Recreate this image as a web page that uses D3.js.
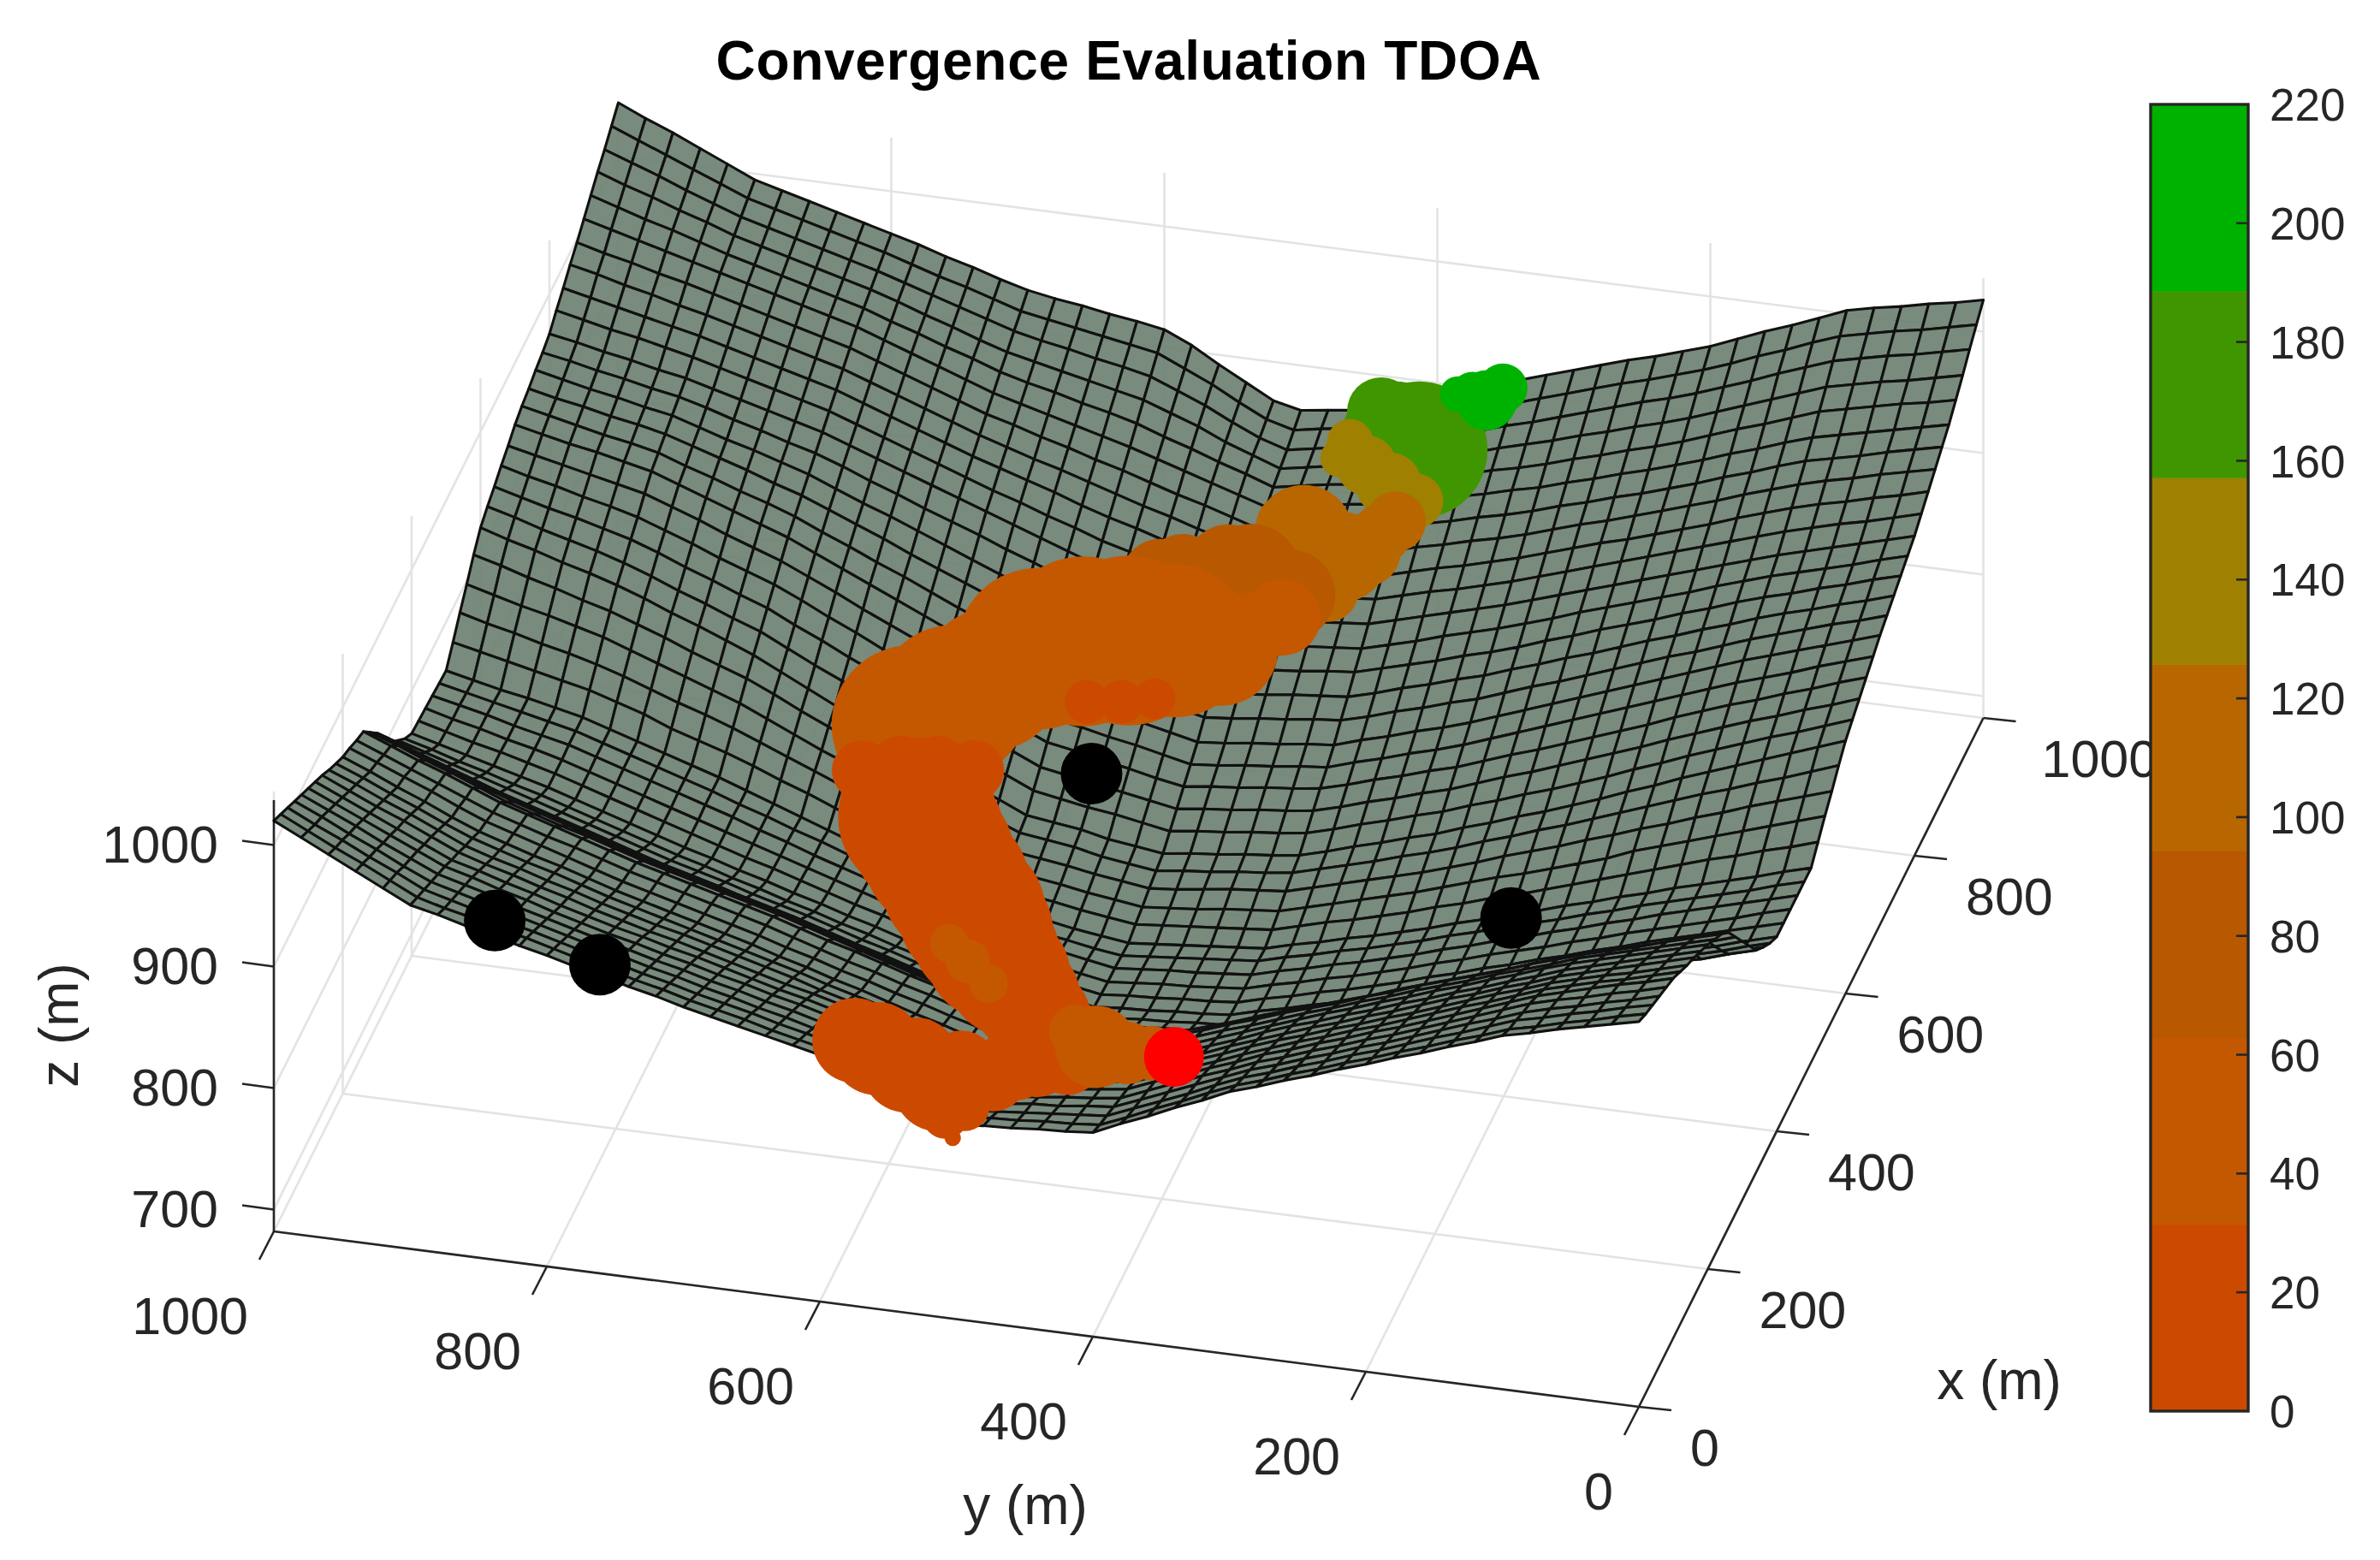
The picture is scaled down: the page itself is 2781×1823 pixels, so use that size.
<!DOCTYPE html>
<html>
<head>
<meta charset="utf-8">
<script src="https://cdn.jsdelivr.net/npm/d3@7"></script>
<style>
  html, body { margin: 0; background: #fff; }
  text { font-family: "Liberation Sans", Arial, sans-serif; fill: #262626; }
</style>
</head>
<body>
<svg id="chart" width="2781" height="1823"></svg>
<script>
// terrain heights in m, one row per x (0, 20 .. 1000), one column per y (0, 20 .. 1000)
const terrainZ = [
[999,994,989,984,978,973,965,958,950,943,935,928,920,913,905,898,888,879,869,860,850,848,847,845,844,842,851,859,868,876,885,890,895,900,905,910,916,921,927,932,938,943,949,954,960,965,976,987,998,1009,1020],
[994,989,983,978,972,967,959,952,944,937,929,922,914,907,899,892,883,873,864,854,845,843,842,840,839,837,845,853,862,870,878,883,888,894,899,904,910,915,921,926,932,938,943,949,954,960,971,982,992,1003,1014],
[990,985,979,974,968,963,955,947,940,932,924,917,909,902,894,887,878,868,859,850,841,839,837,835,833,831,839,847,856,864,872,877,882,888,893,898,904,909,915,920,926,932,937,943,949,955,966,976,987,997,1008],
[986,980,975,969,964,958,950,943,935,927,919,912,904,897,889,882,873,864,855,846,837,835,832,831,828,826,834,842,849,857,865,870,876,881,887,892,898,903,909,914,920,926,932,938,944,950,960,971,981,992,1002],
[982,976,971,965,960,954,946,938,930,922,914,907,899,892,884,877,868,860,851,842,833,830,828,825,823,820,828,836,843,851,859,864,870,875,881,886,892,897,903,908,914,920,926,933,939,945,955,965,976,986,996],
[978,972,967,961,955,949,941,933,925,917,909,902,894,887,879,872,863,855,846,838,829,826,823,821,818,815,822,830,837,845,852,858,864,869,875,880,886,891,897,902,908,914,921,927,934,940,950,960,970,980,990],
[972,966,960,955,949,943,935,927,920,912,904,896,889,881,874,866,858,849,841,832,824,821,818,815,811,808,815,823,830,838,845,851,857,862,868,874,880,885,891,896,902,908,915,921,928,934,944,954,964,974,984],
[966,960,954,949,943,937,929,922,914,906,898,891,883,876,868,861,853,844,836,827,819,815,812,809,806,802,809,816,824,831,838,844,850,855,861,867,873,879,884,890,896,903,909,916,922,929,939,949,958,968,978],
[961,955,949,943,937,931,923,916,908,901,893,885,878,870,863,855,847,839,830,822,814,810,806,803,799,795,802,809,816,823,830,836,842,849,855,861,867,873,878,884,890,897,903,910,916,923,933,943,952,962,971],
[955,949,943,937,931,925,917,910,902,895,887,880,872,865,857,850,842,833,825,817,809,805,801,797,793,789,796,803,809,816,823,829,835,842,848,854,860,866,872,878,884,891,898,904,911,918,927,937,946,956,965],
[949,943,937,931,925,919,912,904,897,889,882,874,867,859,852,844,836,828,820,812,804,799,795,791,787,782,789,795,802,808,815,822,828,835,841,848,854,860,866,872,878,885,892,898,905,912,921,931,940,950,959],
[942,936,930,924,918,912,904,897,890,882,875,868,860,853,845,838,830,822,815,807,799,795,791,787,783,779,785,792,798,805,811,818,824,831,837,844,850,856,862,868,874,881,888,895,902,909,918,928,937,946,955],
[935,929,923,916,910,904,897,890,882,875,868,861,853,846,838,831,824,816,809,801,794,790,787,782,779,775,781,788,794,801,807,814,820,827,834,841,847,853,859,865,871,878,885,891,898,905,914,923,932,941,950],
[925,919,912,906,900,894,887,880,872,865,858,851,844,836,829,822,815,808,800,793,786,784,780,778,774,772,778,784,791,797,803,810,817,823,830,837,843,849,855,861,867,874,881,888,895,902,911,920,928,937,946],
[910,903,897,890,884,878,871,864,857,850,843,836,829,821,814,807,800,794,787,780,773,770,767,765,763,761,767,773,780,786,792,799,806,813,820,827,833,839,845,851,857,864,871,877,884,891,900,909,917,926,934],
[895,888,882,875,869,863,856,849,842,835,828,821,814,807,800,793,786,780,773,767,760,758,756,754,752,750,756,762,768,774,780,787,794,801,808,815,821,827,833,839,845,852,859,866,873,880,888,897,905,914,922],
[880,873,867,860,854,848,841,834,828,821,814,807,801,794,787,780,774,767,761,754,748,746,745,743,741,739,745,751,756,762,768,775,782,789,796,803,809,815,821,827,833,840,847,854,861,868,876,884,892,900,908],
[865,859,852,847,840,834,827,820,814,807,800,793,787,780,773,766,760,754,747,741,735,734,732,731,729,728,733,739,744,750,755,762,769,775,782,789,795,801,808,814,820,827,834,841,848,855,862,870,877,885,892],
[856,850,844,837,831,825,818,811,805,798,792,785,779,772,766,759,753,747,741,735,729,727,726,724,723,721,726,731,737,742,747,754,761,767,774,781,787,793,800,806,812,819,826,833,840,847,854,861,868,875,882],
[848,842,836,830,824,818,811,805,798,792,785,778,772,765,759,752,746,740,735,729,723,722,720,719,717,716,721,726,730,735,740,747,753,760,766,773,779,786,792,799,805,812,819,826,833,840,846,853,859,866,872],
[842,836,830,824,818,812,806,799,793,786,780,774,767,761,754,748,742,737,731,726,720,718,717,715,714,712,717,721,726,730,735,742,748,755,761,768,774,781,787,794,800,807,814,821,828,835,841,847,853,859,865],
[842,836,830,824,818,812,805,799,792,786,779,773,766,760,753,747,741,736,730,725,719,717,716,714,713,711,715,720,724,729,733,740,746,753,759,766,773,780,786,793,800,807,814,821,828,835,841,847,852,858,864],
[842,836,829,823,817,811,805,798,792,785,779,773,766,760,753,747,741,736,730,725,719,717,715,714,712,710,714,718,722,726,730,737,744,751,758,765,772,779,786,793,800,807,814,821,828,835,841,846,852,857,863],
[842,836,830,824,818,812,805,799,792,786,779,773,766,760,753,747,741,736,730,725,719,717,715,714,712,710,714,718,721,725,729,736,743,750,757,764,771,779,786,794,801,808,815,822,829,836,841,846,852,857,862],
[842,836,829,823,817,811,805,798,792,785,779,773,766,760,753,747,741,736,730,725,719,717,715,713,711,709,712,716,719,723,726,733,741,748,756,763,771,778,786,793,801,808,815,822,829,836,841,846,851,856,861],
[842,836,829,823,817,811,804,798,791,785,778,772,765,759,752,746,740,735,729,724,718,716,714,712,710,708,711,714,718,721,724,731,739,746,754,761,769,777,785,793,801,808,815,822,829,836,841,846,850,855,860],
[852,845,839,832,826,819,812,805,798,791,784,777,771,764,758,751,745,739,734,728,722,720,718,716,714,712,715,718,722,725,728,736,744,751,759,767,776,785,793,802,810,817,824,833,840,847,852,857,862,867,872],
[862,855,848,841,834,827,820,813,804,797,790,783,777,770,763,756,750,744,738,732,726,724,722,719,717,715,718,721,725,728,732,740,748,757,765,773,783,792,801,810,819,827,834,842,850,857,863,868,874,879,885],
[871,864,857,850,842,835,827,820,812,805,797,790,783,775,768,761,755,749,743,737,731,729,727,724,721,719,722,725,729,732,735,744,753,761,770,779,789,798,808,818,828,836,844,852,860,868,874,880,885,891,897],
[881,873,865,858,850,843,835,827,819,811,803,796,788,781,773,766,760,753,747,741,735,732,730,727,725,722,725,728,733,736,739,748,757,767,776,785,795,806,816,827,837,845,853,862,870,878,884,891,897,904,910],
[890,882,874,866,858,850,842,833,825,816,808,800,793,785,778,770,764,757,751,744,738,735,733,730,728,725,728,731,736,739,742,752,761,771,780,790,801,812,823,834,845,854,863,871,880,888,895,901,908,914,921],
[896,888,880,873,865,857,849,840,832,823,815,807,800,792,785,777,771,764,758,751,745,742,740,737,735,732,736,740,743,747,751,761,770,780,789,799,810,821,831,842,853,861,870,878,887,895,902,908,914,921,927],
[902,894,887,879,872,864,856,848,839,831,823,815,807,800,792,784,778,771,765,758,752,749,747,744,742,739,743,747,751,755,759,769,779,788,798,808,819,829,840,850,861,869,878,886,895,903,909,915,920,926,932],
[908,901,893,886,878,871,863,855,846,838,830,822,814,807,799,791,785,778,772,765,759,756,754,751,749,746,750,755,759,764,768,778,787,797,807,817,827,838,848,859,869,877,885,894,902,910,916,921,927,932,938],
[914,907,900,892,885,878,870,862,854,846,838,830,822,814,806,798,791,785,778,772,765,763,760,758,755,753,758,763,767,772,776,786,796,806,816,826,836,846,857,867,877,885,893,902,910,918,923,928,933,938,943],
[920,913,906,899,892,885,877,869,861,853,845,837,829,821,813,805,798,792,785,779,772,770,767,765,762,760,765,770,775,780,785,795,805,815,825,835,845,855,865,875,885,893,901,909,917,925,930,935,939,944,949],
[925,918,912,905,898,891,883,875,868,860,852,844,836,829,821,813,807,800,794,787,781,779,776,774,771,769,774,779,785,790,795,805,814,824,833,843,853,862,872,881,891,899,906,914,921,929,934,938,943,948,953],
[930,923,917,910,904,897,889,882,874,867,859,851,844,836,829,821,815,808,802,795,789,787,785,782,780,778,783,789,794,800,805,814,824,833,842,851,860,870,879,888,897,904,912,919,926,933,938,942,947,951,956],
[935,929,922,916,909,903,896,888,881,873,866,859,851,844,836,829,823,816,810,804,798,796,793,791,789,787,793,798,804,809,815,824,833,841,850,859,868,877,885,894,903,910,917,923,930,937,941,946,950,955,960],
[940,934,927,921,915,909,902,895,887,880,873,866,859,851,844,837,831,825,818,812,806,804,802,800,798,796,802,808,813,819,825,833,842,850,859,867,875,884,892,901,909,915,922,928,935,941,945,950,954,959,963],
[945,939,933,927,921,915,908,901,894,887,880,873,866,859,852,845,839,833,827,821,815,813,811,809,807,805,811,817,823,829,835,843,851,859,867,875,883,891,899,907,915,921,927,933,939,945,949,954,958,963,967],
[952,946,940,935,929,923,916,909,902,895,888,881,874,867,860,853,847,841,836,830,824,822,819,817,814,812,818,825,831,837,843,851,858,866,873,881,889,897,905,913,921,927,933,939,945,951,956,961,965,970,975],
[959,953,948,942,937,931,924,917,909,902,895,888,882,875,868,861,855,849,844,838,832,829,827,824,822,819,825,832,838,845,851,858,866,873,880,887,895,903,911,919,927,933,939,945,951,957,962,967,972,977,982],
[966,961,956,950,945,939,932,925,917,910,903,896,889,883,876,869,863,858,852,847,841,838,835,832,829,826,833,839,846,852,859,866,873,879,886,893,901,909,917,925,933,939,945,951,957,963,968,974,979,985,990],
[973,968,963,957,952,947,940,932,925,917,910,903,897,890,884,877,871,866,860,855,849,846,843,839,836,833,840,847,853,860,867,873,880,886,893,899,907,915,923,931,939,945,951,957,963,969,975,980,986,991,997],
[980,975,970,965,960,955,948,940,933,925,918,911,905,898,892,885,880,874,869,863,858,854,851,847,844,840,847,854,861,868,875,881,887,893,899,905,913,921,929,937,945,951,957,963,969,975,981,987,993,999,1005],
[989,984,980,975,970,965,957,949,942,934,926,919,913,906,900,893,887,882,876,870,864,860,856,853,849,845,853,860,868,875,883,889,894,900,905,911,919,926,934,941,949,955,961,967,973,979,986,993,999,1006,1013],
[998,993,988,984,979,974,966,958,950,942,934,927,921,914,908,901,895,889,882,876,870,866,862,857,853,849,857,865,875,883,891,896,901,906,911,916,923,931,938,946,953,959,965,971,977,983,991,998,1006,1013,1021],
[1008,1003,998,994,989,984,976,968,959,951,943,936,930,923,916,909,902,896,889,883,876,871,866,861,857,853,860,870,881,890,899,904,908,913,917,922,929,936,943,950,957,963,969,975,981,987,995,1003,1012,1020,1028],
[1017,1012,1007,1003,998,993,985,976,968,959,951,944,937,931,924,917,910,903,896,889,882,876,870,865,862,858,864,875,887,897,907,911,915,919,923,927,934,941,947,954,961,967,973,979,985,991,1000,1009,1018,1027,1036],
[1026,1021,1017,1012,1008,1003,994,985,977,968,959,952,945,939,932,925,918,911,903,896,888,880,873,869,866,863,868,880,892,905,915,919,922,926,929,933,939,946,952,959,965,971,977,983,989,995,1005,1015,1025,1034,1044]
];

// swarm track: position in m, cloud half-width in m, colour value
const trackX = [947,955,976, 945,930,933,927,918, 996,985,983,980, 878,878,870,892,881,845,903, 836,852,856,843,865,857,826, 827,821,799,793,785,776,766,725,696,657, 725,719,735, 586,599,605,606,549,528,508,477,445,423,401,374,347,322,298, 407,386,359, 117,118,116,104,134,67,41,96,165,184,221,241,260,251, 293,275,272,276];
const trackY = [400,419,435, 450,454,435,417,395, 351,360,370,380, 477,467,437,414,422,441,406, 585,566,550,530,519,500,464, 470,485,508,540,572,603,634,657,678,699, 562,586,540, 717,692,666,640,667,654,641,621,601,588,575,556,537,519,501, 608,589,567, 604,588,565,539,563,525,513,518,538,520,513,502,495,482, 487,467,444,427];
const trackZ = [875,880,885, 875,870,865,855,850, 905,900,905,905, 840,835,825,835,825,810,840, 798,800,803,805,808,810,815, 795,790,780,785,785,785,780,775,770,770, 770,770,770, 770,770,770,770,760,758,755,752,750,748,745,745,745,745,745, 745,745,745, 830,825,815,810,810,808,806,800,790,775,765,758,755,755, 755,755,755,755];
const trackSpread = [50,39,25, 17,14,22,24,20, 18,22,16,13, 25,36,33,22,25,22,22, 22,28,29,33,31,36,33, 28,25,42,56,62,62,59,52,56,58, 16,16,15, 22,22,22,22,58,56,55,54,54,52,49,45,40,36,33, 14,16,14, 31,34,34,34,31,17,6,18,27,26,27,27,25,25, 19,30,23,20];
const trackValue = [175,170,170, 140,140,140,140,140, 215,205,205,200, 115,115,115,115,115,115,115, 80,80,80,80,80,80,80, 50,50,50,50,50,50,50,50,50,50, 25,25,25, 15,15,15,15,15,15,15,15,12,12,12,12,12,12,10, 45,45,45, 8,8,8,8,8,6,6,6,6,5,5,5,5,5, 45,45,45,45];

// anchor nodes and the red target
const anchorX = [35,35,650,477];
const anchorY = [847,770,565,214];
const anchorZ = [940,915,753,783];
const targetPoint = [275,410,755];

const xTicks = [0,200,400,600,800,1000];
const yTicks = [0,200,400,600,800,1000];
const zTicks = [700,800,900,1000];
const barTicks = [0,20,40,60,80,100,120,140,160,180,200,220];
const barColors = ['#cc4a00','#c45800','#b85800','#b86600','#a08000','#409600','#00b200'];

const svg = d3.select('#chart');

// fixed 3d view, every axis contributes a linear screen offset
const originX = 1915, originY = 1644;
const xToPx = d3.scaleLinear().domain([0,1000]).range([0,402.5]);
const xToPy = d3.scaleLinear().domain([0,1000]).range([0,-805]);
const yToPx = d3.scaleLinear().domain([0,1000]).range([0,-1595]);
const yToPy = d3.scaleLinear().domain([0,1000]).range([0,-205]);
const zToPy = d3.scaleLinear().domain([682,1044]).range([0,-514]);
const zMin = 682, zMax = 1044, zAxisTop = 1037;
const project = (x, y, z) => [
  originX + xToPx(x) + yToPx(y),
  originY + xToPy(x) + yToPy(y) + zToPy(z)
];
const line = d3.line();

// back walls and floor grid
const grid = svg.append('g').attr('stroke', '#e3e3e3').attr('stroke-width', 2.6).attr('fill', 'none');
const addGrid = (a, b) => grid.append('path').attr('d', line([project(...a), project(...b)]));
xTicks.forEach(t => {
  addGrid([t,0,zMin], [t,1000,zMin]);
  addGrid([t,1000,zMin], [t,1000,zMax]);
});
yTicks.forEach(t => {
  addGrid([0,t,zMin], [1000,t,zMin]);
  addGrid([1000,t,zMin], [1000,t,zMax]);
});
zTicks.forEach(t => {
  addGrid([0,1000,t], [1000,1000,t]);
  addGrid([1000,1000,t], [1000,0,t]);
});

// axes
const axes = svg.append('g').attr('stroke', '#262626').attr('stroke-width', 2.6).attr('fill', 'none');
const addAxis = (a, b) => axes.append('path').attr('d', line([a, b]));
addAxis(project(0,0,zMin), project(1000,0,zMin));
addAxis(project(0,0,zMin), project(0,1000,zMin));
addAxis(project(0,1000,zMin), project(0,1000,zAxisTop));

const labels = svg.append('g').attr('font-size', 61);
xTicks.forEach(t => {
  const [px, py] = project(t,0,zMin);
  addAxis([px,py], [px+38,py+4]);
  labels.append('text').attr('x', px + (t === 1000 ? 68 : 60)).attr('y', py + 47).attr('dy', '.36em').text(t);
});
yTicks.forEach(t => {
  const [px, py] = project(0,t,zMin);
  addAxis([px,py], [px-17,py+33]);
  labels.append('text').attr('x', px - 30).attr('y', py + 98).attr('dy', '.36em').attr('text-anchor', 'end').text(t);
});
zTicks.forEach(t => {
  const [px, py] = project(0,1000,t);
  addAxis([px,py], [px-37,py-5]);
  labels.append('text').attr('x', 255).attr('y', py - 1).attr('dy', '.36em').attr('text-anchor', 'end').text(t);
});
labels.append('text').attr('x', 2336).attr('y', 1612).attr('dy', '.36em').attr('text-anchor', 'middle').attr('font-size', 64).text('x (m)');
labels.append('text').attr('x', 1198).attr('y', 1758).attr('dy', '.36em').attr('text-anchor', 'middle').attr('font-size', 64).text('y (m)');
labels.append('text').attr('transform', 'translate(68,1198) rotate(-90)').attr('dy', '.36em').attr('text-anchor', 'middle').attr('font-size', 64).text('z (m)');

svg.append('text').attr('x', 1319).attr('y', 70).attr('dy', '.36em')
  .attr('text-anchor', 'middle').attr('font-size', 64).attr('font-weight', 'bold')
  .attr('letter-spacing', 0.7)
  .style('fill', '#000').text('Convergence Evaluation TDOA');

// surface, far cells first so the nearer ones paint over them
const surface = svg.append('g').attr('opacity', 0.93);
const cells = [];
for (let i = terrainZ.length - 2; i >= 0; i--) {
  for (let j = terrainZ[i].length - 2; j >= 0; j--) {
    cells.push([[i,j],[i+1,j],[i+1,j+1],[i,j+1]]);
  }
}
surface.selectAll('path').data(cells).join('path')
  .attr('d', c => line(c.map(([i,j]) => project(i*20, j*20, terrainZ[i][j]))) + 'Z')
  .attr('fill', '#6f8373')
  .attr('stroke', '#000')
  .attr('stroke-width', 3.1)
  .attr('stroke-linejoin', 'round');

// swarm
const color = d3.scaleQuantize().domain([0,220]).range(barColors);
const spreadToPx = d3.scaleLinear().domain([0,100]).range([0,160]);
svg.append('g').selectAll('circle').data(d3.range(trackX.length)).join('circle')
  .attr('cx', k => project(trackX[k], trackY[k], trackZ[k])[0])
  .attr('cy', k => project(trackX[k], trackY[k], trackZ[k])[1])
  .attr('r', k => spreadToPx(trackSpread[k]))
  .attr('fill', k => color(trackValue[k]));

// nodes
svg.append('g').selectAll('circle').data(d3.range(anchorX.length)).join('circle')
  .attr('cx', k => project(anchorX[k], anchorY[k], anchorZ[k])[0])
  .attr('cy', k => project(anchorX[k], anchorY[k], anchorZ[k])[1])
  .attr('r', 36)
  .attr('fill', '#000');
svg.append('circle')
  .attr('cx', project(...targetPoint)[0])
  .attr('cy', project(...targetPoint)[1])
  .attr('r', 35)
  .attr('fill', '#ff0000');

// colorbar
const barY = d3.scaleLinear().domain([0,220]).range([1649,122]);
const bar = svg.append('g');
bar.selectAll('rect').data(barColors).join('rect')
  .attr('x', 2513).attr('width', 114)
  .attr('y', (d,k) => barY((k+1)*220/barColors.length))
  .attr('height', barY(0) - barY(220/barColors.length) + 0.5)
  .attr('fill', d => d);
bar.append('rect').attr('x', 2513).attr('y', 122).attr('width', 114).attr('height', 1527)
  .attr('fill', 'none').attr('stroke', '#262626').attr('stroke-width', 3.4);
barTicks.forEach(t => {
  if (t > 0 && t < 220) {
    bar.append('path').attr('d', line([[2627,barY(t)],[2613,barY(t)]]))
      .attr('stroke', '#262626').attr('stroke-width', 2.6);
  }
  bar.append('text').attr('x', 2652).attr('y', barY(t)).attr('dy', '.36em').attr('font-size', 53).text(t);
});
</script>
</body>
</html>
